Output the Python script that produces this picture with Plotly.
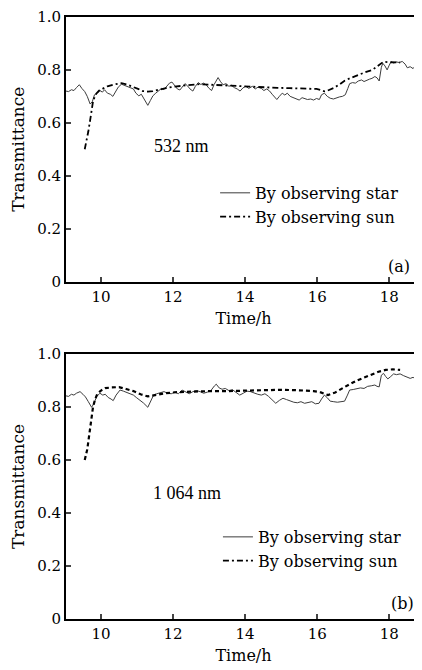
import plotly.graph_objects as go

# ---------------- data: panel (a) 532 nm ----------------
star_a_t = [9.03, 9.10, 9.18, 9.25, 9.32, 9.40, 9.47, 9.55, 9.62, 9.70, 9.76, 9.82, 9.90, 9.97,
            10.04, 10.10, 10.18, 10.26, 10.33, 10.40, 10.48, 10.57, 10.65, 10.73, 10.82, 10.90,
            10.97, 11.05, 11.12, 11.20, 11.30, 11.37, 11.44, 11.52, 11.60, 11.68, 11.75, 11.83,
            11.90, 11.97, 12.04, 12.12, 12.19, 12.26, 12.33, 12.40, 12.47, 12.55, 12.62, 12.70,
            12.77, 12.85, 12.93, 13.00, 13.07, 13.14, 13.20, 13.25, 13.32, 13.39, 13.47, 13.55,
            13.62, 13.70, 13.78, 13.86, 13.94, 14.02, 14.10, 14.20, 14.28, 14.36, 14.45, 14.52,
            14.60, 14.68, 14.75, 14.82, 14.88, 14.95, 15.03, 15.10, 15.17, 15.25, 15.33, 15.42,
            15.50, 15.58, 15.65, 15.73, 15.82, 15.90, 15.98, 16.06, 16.12, 16.20, 16.28, 16.36,
            16.45, 16.53, 16.62, 16.70, 16.78, 16.85, 16.90, 16.98, 17.06, 17.14, 17.23, 17.30,
            17.38, 17.45, 17.52, 17.60, 17.66, 17.72, 17.78, 17.82, 17.88, 17.94, 18.00, 18.05,
            18.12, 18.20, 18.28, 18.36, 18.44, 18.50, 18.58, 18.66, 18.72, 18.80, 18.88]
star_a_v = [0.720, 0.718, 0.725, 0.722, 0.733, 0.744, 0.730, 0.718, 0.700, 0.671, 0.680, 0.706, 0.712, 0.722,
            0.716, 0.725, 0.712, 0.708, 0.700, 0.718, 0.735, 0.746, 0.742, 0.738, 0.733, 0.728,
            0.712, 0.702, 0.708, 0.690, 0.666, 0.684, 0.702, 0.712, 0.722, 0.730, 0.726, 0.738,
            0.750, 0.754, 0.740, 0.728, 0.724, 0.738, 0.748, 0.740, 0.728, 0.720, 0.738, 0.752,
            0.745, 0.750, 0.742, 0.730, 0.722, 0.745, 0.762, 0.771, 0.755, 0.744, 0.748, 0.738,
            0.742, 0.733, 0.728, 0.720, 0.732, 0.738, 0.730, 0.738, 0.728, 0.735, 0.730, 0.722,
            0.728, 0.720, 0.708, 0.695, 0.688, 0.700, 0.712, 0.705, 0.712, 0.700, 0.695, 0.690,
            0.686, 0.695, 0.693, 0.688, 0.690, 0.686, 0.692, 0.688, 0.706, 0.712, 0.700, 0.693,
            0.690, 0.695, 0.698, 0.700, 0.706, 0.730, 0.748, 0.752, 0.750, 0.758, 0.762, 0.756,
            0.762, 0.765, 0.768, 0.775, 0.770, 0.758, 0.810, 0.825, 0.815, 0.800, 0.818, 0.831,
            0.826, 0.830, 0.828, 0.832, 0.822, 0.808, 0.812, 0.805, 0.815, 0.820, 0.810]

sun_a_t = [9.55, 9.60, 9.65, 9.70, 9.74, 9.78, 9.83, 9.88, 9.95, 10.06, 10.18, 10.33, 10.45, 10.57,
           10.72, 10.89, 11.03, 11.16, 11.30, 11.44, 11.60, 11.80, 12.00, 12.20, 12.40, 12.74,
           13.00, 13.30, 13.67, 14.00, 14.30, 14.58, 14.90, 15.24, 15.60, 15.98, 16.10, 16.20,
           16.29, 16.45, 16.62, 16.76, 16.90, 17.10, 17.31, 17.53, 17.65, 17.73, 17.84, 18.00,
           18.15, 18.30]
sun_a_v = [0.500, 0.530, 0.568, 0.610, 0.643, 0.681, 0.700, 0.712, 0.722, 0.731, 0.738, 0.744, 0.748, 0.750,
           0.745, 0.737, 0.728, 0.720, 0.718, 0.720, 0.726, 0.731, 0.736, 0.740, 0.742, 0.746,
           0.744, 0.742, 0.740, 0.738, 0.736, 0.733, 0.732, 0.731, 0.730, 0.728, 0.724, 0.719,
           0.722, 0.731, 0.745, 0.759, 0.768, 0.780, 0.790, 0.800, 0.812, 0.819, 0.831, 0.829,
           0.828, 0.828]

# ---------------- data: panel (b) 1 064 nm ----------------
star_b_t = [9.03, 9.10, 9.18, 9.25, 9.32, 9.42, 9.50, 9.57, 9.65, 9.74, 9.80, 9.88, 9.97, 10.05,
            10.12, 10.20, 10.28, 10.34, 10.42, 10.53, 10.62, 10.72, 10.82, 10.90, 10.98, 11.08,
            11.18, 11.30, 11.38, 11.46, 11.55, 11.65, 11.75, 11.85, 11.95, 12.05, 12.15, 12.25,
            12.35, 12.45, 12.55, 12.65, 12.75, 12.85, 12.95, 13.05, 13.15, 13.20, 13.28, 13.36,
            13.45, 13.55, 13.65, 13.75, 13.85, 13.95, 14.05, 14.15, 14.25, 14.35, 14.45, 14.55,
            14.65, 14.75, 14.85, 14.95, 15.05, 15.15, 15.25, 15.35, 15.45, 15.55, 15.65, 15.75,
            15.85, 15.95, 16.05, 16.12, 16.20, 16.28, 16.36, 16.46, 16.56, 16.66, 16.76, 16.84,
            16.90, 17.00, 17.10, 17.20, 17.30, 17.40, 17.50, 17.60, 17.66, 17.72, 17.78, 17.84,
            17.90, 17.96, 18.04, 18.12, 18.20, 18.30, 18.40, 18.50, 18.58, 18.66, 18.74, 18.82, 18.88]
star_b_v = [0.842, 0.840, 0.848, 0.845, 0.852, 0.858, 0.848, 0.838, 0.820, 0.799, 0.812, 0.839, 0.852, 0.845,
            0.848, 0.836, 0.830, 0.824, 0.845, 0.864, 0.860, 0.855, 0.848, 0.845, 0.836, 0.826,
            0.815, 0.799, 0.822, 0.845, 0.850, 0.855, 0.858, 0.852, 0.850, 0.856, 0.850, 0.864,
            0.858, 0.850, 0.858, 0.862, 0.858, 0.852, 0.856, 0.862, 0.880, 0.886, 0.872, 0.867,
            0.870, 0.862, 0.865, 0.855, 0.845, 0.852, 0.860, 0.858, 0.852, 0.848, 0.845, 0.850,
            0.840, 0.828, 0.814, 0.825, 0.833, 0.828, 0.822, 0.818, 0.816, 0.820, 0.814, 0.818,
            0.820, 0.812, 0.814, 0.830, 0.845, 0.835, 0.822, 0.820, 0.818, 0.820, 0.822, 0.845,
            0.864, 0.866, 0.870, 0.872, 0.870, 0.878, 0.880, 0.883, 0.878, 0.876, 0.920, 0.927,
            0.915, 0.906, 0.915, 0.925, 0.922, 0.925, 0.918, 0.912, 0.908, 0.912, 0.905, 0.908, 0.906]

sun_b_t = [9.55, 9.62, 9.68, 9.74, 9.78, 9.84, 9.90, 10.00, 10.12, 10.30, 10.50, 10.70, 10.90, 11.10,
           11.30, 11.50, 11.80, 12.10, 12.50, 13.00, 13.50, 14.00, 14.50, 15.00, 15.50, 15.90,
           16.10, 16.30, 16.50, 16.70, 16.90, 17.10, 17.30, 17.50, 17.70, 17.90, 18.10, 18.30]
sun_b_v = [0.600, 0.640, 0.700, 0.760, 0.800, 0.830, 0.850, 0.862, 0.871, 0.874, 0.875, 0.868, 0.860, 0.848,
           0.840, 0.845, 0.852, 0.856, 0.858, 0.860, 0.860, 0.861, 0.863, 0.865, 0.863, 0.860,
           0.855, 0.845, 0.855, 0.872, 0.886, 0.900, 0.912, 0.922, 0.933, 0.940, 0.942, 0.940]

y_ticks = [0, 0.2, 0.4, 0.6, 0.8, 1.0]
y_ticktext = ["0", "0.2", "0.4", "0.6", "0.8", "1.0"]
x_ticks = [10, 12, 14, 16, 18]
series_names = ["By observing star", "By observing sun"]
panel_labels = ["(a)", "(b)"]
wavelength_labels = ["532 nm", "1 064 nm"]

AX_FONT = "DejaVu Serif"
SERIF = "Liberation Serif"
DASHDOT = "6px,3px,2px,3px"

fig = go.Figure()

star_style = dict(color="#3c3c3c", width=1)
fig.add_trace(go.Scatter(x=star_a_t, y=star_a_v, mode="lines", name=series_names[0],
                         line=star_style, xaxis="x", yaxis="y", legend="legend"))
fig.add_trace(go.Scatter(x=sun_a_t, y=sun_a_v, mode="lines", name=series_names[1],
                         line=dict(color="black", width=1.8, dash=DASHDOT),
                         xaxis="x", yaxis="y", legend="legend"))
fig.add_trace(go.Scatter(x=star_b_t, y=star_b_v, mode="lines", name=series_names[0],
                         line=star_style, xaxis="x2", yaxis="y2", legend="legend2"))
fig.add_trace(go.Scatter(x=sun_b_t, y=sun_b_v, mode="lines", name=series_names[1],
                         line=dict(color="black", width=2.2, dash="4px,3px"),
                         xaxis="x2", yaxis="y2", showlegend=False))
# legend sample for panel (b) uses the dash-dot style as printed
fig.add_trace(go.Scatter(x=[None], y=[None], mode="lines", name=series_names[1],
                         line=dict(color="black", width=1.8, dash=DASHDOT),
                         xaxis="x2", yaxis="y2", legend="legend2"))

common_x = dict(range=[9.03, 18.88], tickvals=x_ticks, ticks="inside", ticklen=5, tickwidth=1.5,
                showline=True, linewidth=2, linecolor="black", mirror=True, showgrid=False,
                zeroline=False, tickfont=dict(family=AX_FONT, size=15, color="black"),
                title=dict(text="Time/h", font=dict(family=AX_FONT, size=16, color="black"), standoff=8))
common_y = dict(range=[0, 1.0], tickvals=y_ticks, ticktext=y_ticktext, ticks="inside", ticklen=5,
                tickwidth=1.5, showline=True, linewidth=2, linecolor="black", showgrid=False,
                zeroline=False, ticklabeloverflow="allow",
                tickfont=dict(family=AX_FONT, size=15, color="black"),
                title=dict(text="Transmittance", font=dict(family=AX_FONT, size=17, color="black"), standoff=8))

leg_font = dict(family=AX_FONT, size=16, color="black")
fig.update_layout(
    width=414, height=662,
    margin=dict(l=58, r=1, t=9, b=51, autoexpand=False),
    paper_bgcolor="white", plot_bgcolor="white",
    xaxis=dict(common_x, domain=[0, 1], anchor="y"),
    yaxis=dict(common_y, domain=[0.5606, 1.0], anchor="x"),
    xaxis2=dict(common_x, domain=[0, 1], anchor="y2"),
    yaxis2=dict(common_y, domain=[0.0, 0.4402], anchor="x2"),
    legend=dict(x=0.42, y=0.736, xanchor="left", yanchor="top", font=leg_font,
                bgcolor="rgba(0,0,0,0)", tracegroupgap=0, itemwidth=30),
    legend2=dict(x=0.428, y=0.1645, xanchor="left", yanchor="top", font=leg_font,
                 bgcolor="rgba(0,0,0,0)", tracegroupgap=0, itemwidth=30),
    showlegend=True,
    annotations=[
        dict(x=12.24, y=0.512, xref="x", yref="y", text=wavelength_labels[0], showarrow=False,
             font=dict(family=SERIF, size=18, color="black")),
        dict(x=12.38, y=0.475, xref="x2", yref="y2", text=wavelength_labels[1], showarrow=False,
             font=dict(family=SERIF, size=18, color="black")),
        dict(x=18.28, y=0.055, xref="x", yref="y", text=panel_labels[0], showarrow=False,
             font=dict(family=AX_FONT, size=16, color="black")),
        dict(x=18.37, y=0.06, xref="x2", yref="y2", text=panel_labels[1], showarrow=False,
             font=dict(family=AX_FONT, size=16, color="black")),
    ],
)

fig.write_html("out.html")
